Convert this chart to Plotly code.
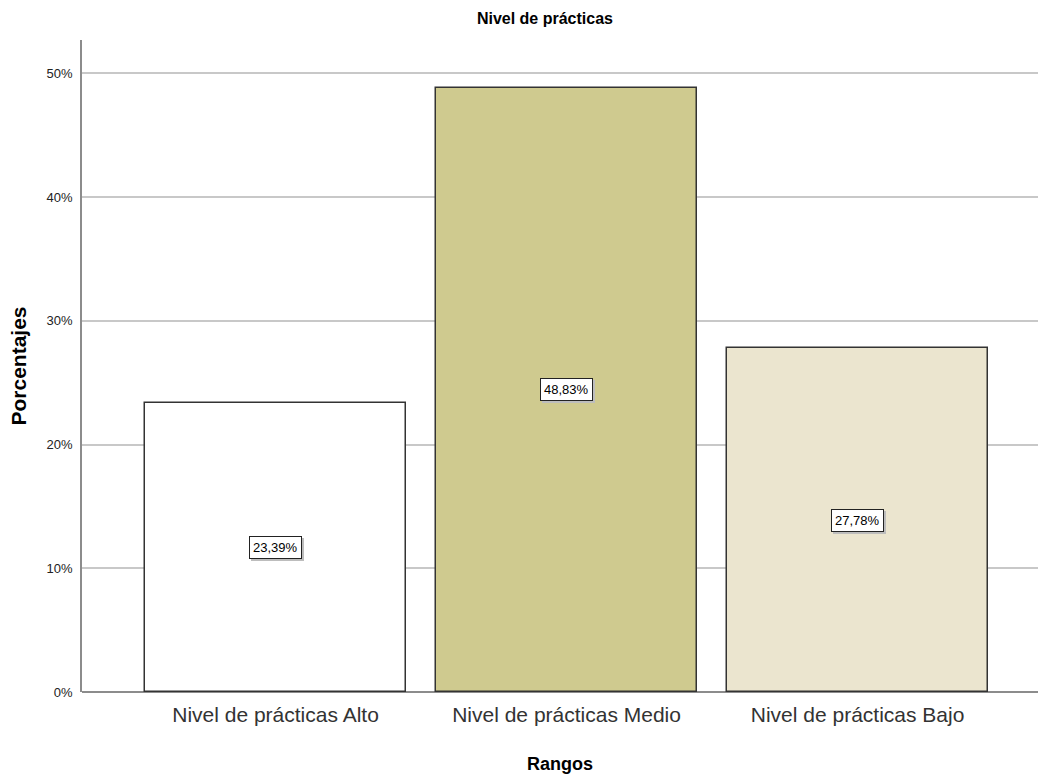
import plotly.graph_objects as go

categorias = ["Nivel de prácticas Alto", "Nivel de prácticas Medio", "Nivel de prácticas Bajo"]
porcentajes = [23.39, 48.83, 27.78]
etiquetas = ["23,39%", "48,83%", "27,78%"]
colores = ["#FFFFFF", "#CFCA8F", "#EBE5CF"]
y_ticks = [0, 10, 20, 30, 40, 50]
y_tick_text = ["0%", "10%", "20%", "30%", "40%", "50%"]

FONT = "Liberation Sans Narrow, Arial Narrow, Liberation Sans, Arial, sans-serif"

x_pos = list(range(len(categorias)))

fig = go.Figure()
fig.add_trace(go.Bar(
    x=x_pos,
    y=porcentajes,
    width=0.897,
    marker=dict(color=colores, line=dict(color="#333333", width=1.5)),
    hoverinfo="skip",
))

# value boxes centred in each bar, with a soft drop shadow behind
for xi, v, t in zip(x_pos, porcentajes, etiquetas):
    fig.add_annotation(
        x=xi, y=v / 2, text=t, showarrow=False,
        xshift=2, yshift=-2,
        font=dict(family=FONT, size=13, color="rgba(0,0,0,0)"),
        bgcolor="#BDBDBD", bordercolor="#BDBDBD", borderwidth=1, borderpad=3,
    )
    fig.add_annotation(
        x=xi, y=v / 2, text=t, showarrow=False,
        font=dict(family=FONT, size=13, color="#000000"),
        bgcolor="#FFFFFF", bordercolor="#222222", borderwidth=1, borderpad=3,
    )

fig.update_layout(
    width=1038, height=780,
    margin=dict(l=82, r=0, t=40, b=88),
    plot_bgcolor="#FFFFFF", paper_bgcolor="#FFFFFF",
    showlegend=False,
    title=dict(text="<b>Nivel de prácticas</b>", x=0.525, xanchor="center", y=0.977, yanchor="middle",
               font=dict(family=FONT, size=16, color="#000000")),
    xaxis=dict(
        range=[-0.665, 2.62],
        tickmode="array", tickvals=x_pos, ticktext=categorias,
        tickfont=dict(family=FONT, size=21, color="#333333"),
        ticklabelstandoff=8,
        showgrid=False, zeroline=False,
        showline=False, ticks="",
        title=dict(text="<b>Rangos</b>", font=dict(family=FONT, size=18, color="#000000"), standoff=32),
    ),
    yaxis=dict(
        range=[0, 52.7],
        tickmode="array", tickvals=y_ticks, ticktext=y_tick_text,
        tickfont=dict(family=FONT, size=13, color="#222222"),
        ticklabelstandoff=5,
        showgrid=True, gridcolor="#C8C8C8", gridwidth=1.5,
        zeroline=True, zerolinecolor="#8C8C8C", zerolinewidth=1.5,
        showline=True, linecolor="#8C8C8C", linewidth=1.5,
        ticks="", ticklen=0,
        title=dict(text="<b>Porcentajes</b>", font=dict(family="Liberation Sans, Arial, sans-serif", size=21, color="#000000"), standoff=14),
    ),
    bargap=0,
)

fig.write_html("out.html")
